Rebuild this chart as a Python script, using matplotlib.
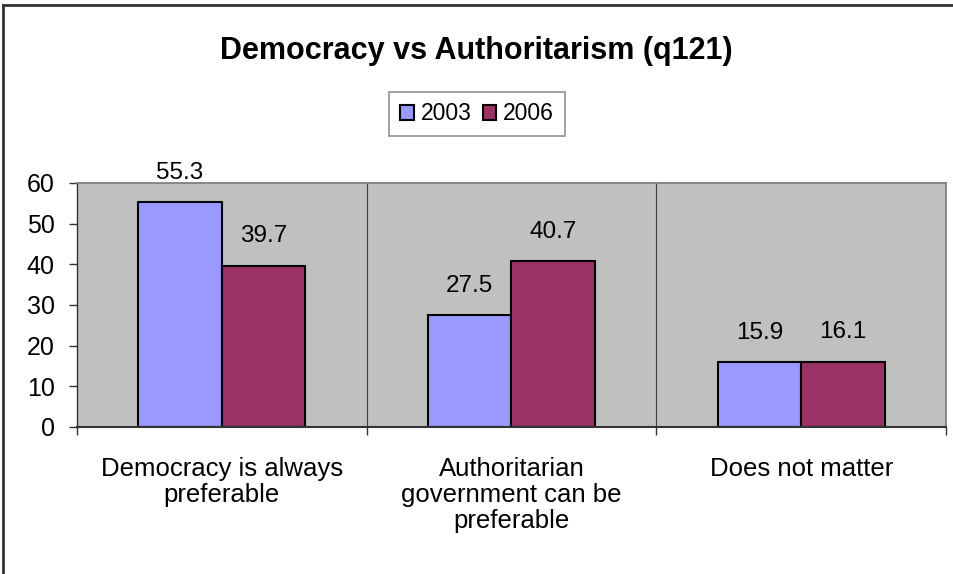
import numpy as np
import matplotlib
matplotlib.use("Agg")
import matplotlib.pyplot as plt
from matplotlib.lines import Line2D

plt.rcParams['font.family'] = ['Liberation Sans', 'DejaVu Sans']

# survey answers (q121), percent
categories = ["Democracy is always\npreferable",
              "Authoritarian\ngovernment can be\npreferable",
              "Does not matter"]
years = ["2003", "2006"]
vals_2003 = [55.3, 27.5, 15.9]
vals_2006 = [39.7, 40.7, 16.1]
yticks = [0, 10, 20, 30, 40, 50, 60]

col_2003 = "#9999FF"
col_2006 = "#993366"

W, H = 954, 574
fig = plt.figure(figsize=(W / 100, H / 100), dpi=100)
ax = fig.add_axes([77 / W, 1 - 427 / H, 869 / W, 244 / H])
ax.set_facecolor("#C0C0C0")

x = np.arange(len(categories))
w = 0.288
b1 = ax.bar(x - w / 2, vals_2003, w, color=col_2003, edgecolor="black", linewidth=1.5, label=years[0])
b2 = ax.bar(x + w / 2, vals_2006, w, color=col_2006, edgecolor="black", linewidth=1.5, label=years[1])

for bars in (b1, b2):
    for r in bars:
        ax.annotate(f"{r.get_height():.1f}", (r.get_x() + r.get_width() / 2, r.get_height()),
                    xytext=(0, 21), textcoords="offset points", ha="center", va="center",
                    fontsize=17.5, annotation_clip=False)

ax.set_xlim(-0.5, len(categories) - 0.5)
ax.set_ylim(0, 60)
ax.set_yticks(yticks)
ax.tick_params(axis="y", length=6, width=1, pad=10, labelsize=18, color="#333333")

# category separators
for s in x[:-1] + 0.5:
    ax.axvline(s, color="#404040", linewidth=0.8)

ax.set_xticks(x)
ax.set_xticklabels(categories, fontsize=18.5, linespacing=1.12)
ax.tick_params(axis="x", length=0, pad=21.5)
ax.set_xticks(np.arange(len(categories) + 1) - 0.5, minor=True)
ax.tick_params(axis="x", which="minor", length=6, width=1, color="#333333")

for side in ("top", "right"):
    ax.spines[side].set_color("#808080")
    ax.spines[side].set_linewidth(1.3)
ax.spines["left"].set_color("#333333")
ax.spines["left"].set_linewidth(1.0)
ax.spines["bottom"].set_color("#333333")
ax.spines["bottom"].set_linewidth(1.5)

fig.text(476 / W, 1 - 48 / H, "Democracy vs Authoritarism (q121)", ha="center", va="center_baseline",
         fontsize=22, fontweight="bold")

leg = fig.legend(handles=[b1, b2], labels=years, loc="center", bbox_to_anchor=(477 / W, 1 - 114 / H),
                 ncol=2, fontsize=16.5, frameon=True, fancybox=False, handlelength=0.6, handleheight=0.6,
                 handletextpad=0.3, columnspacing=0.5, borderpad=0.45, borderaxespad=0)
leg.get_frame().set_edgecolor("#808080")
leg.get_frame().set_linewidth(1.3)

# chart border (top and left edges)
fig.add_artist(Line2D([3.5 / W, 1], [1 - 4.5 / H, 1 - 4.5 / H], color="#333333", linewidth=2,
                      transform=fig.transFigure))
fig.add_artist(Line2D([3.5 / W, 3.5 / W], [0, 1 - 4.5 / H], color="#333333", linewidth=2,
                      transform=fig.transFigure))

fig.savefig("out.png", dpi=100)
